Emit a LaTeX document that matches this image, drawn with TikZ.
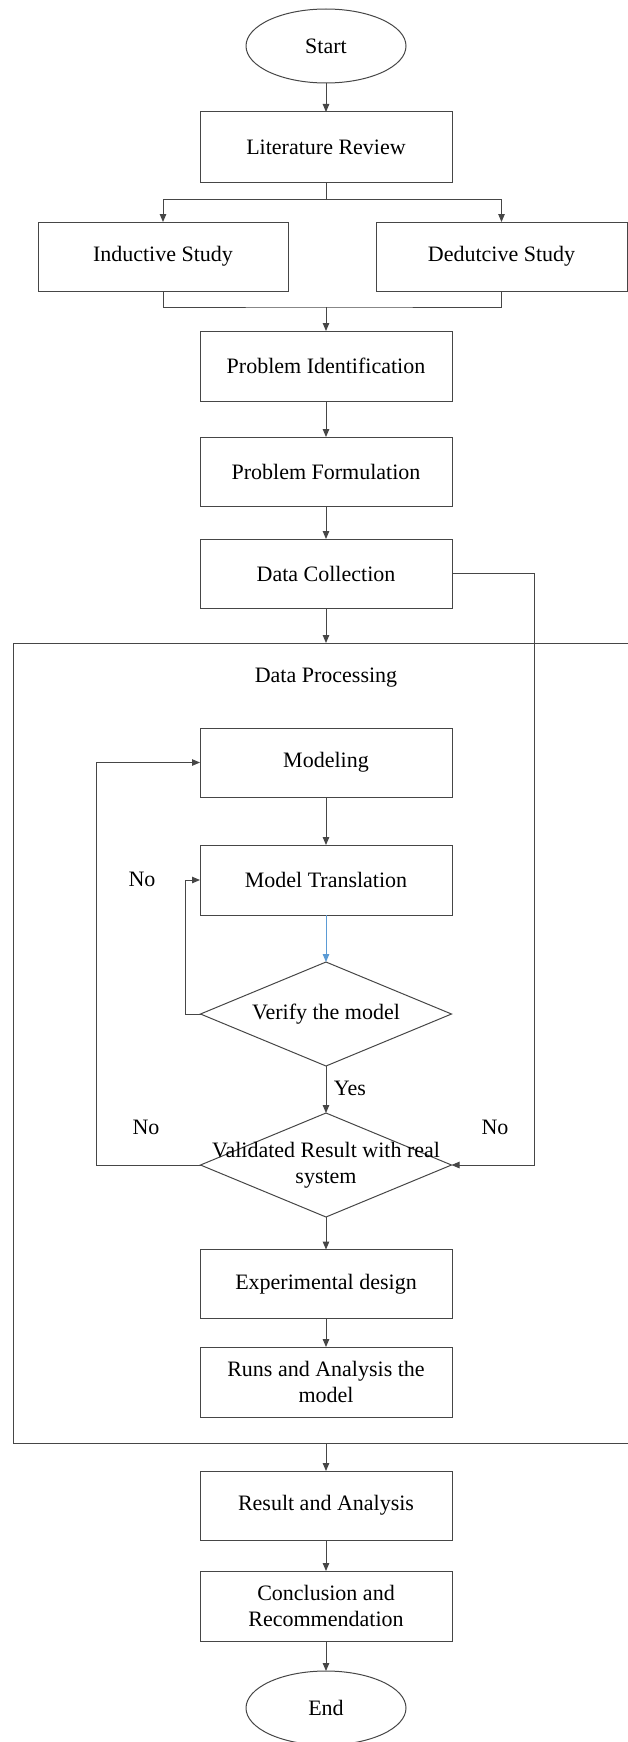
\documentclass[tikz,border=0pt]{standalone}
\usepackage{fontspec}
\setmainfont{Liberation Serif}
\usetikzlibrary{shapes.geometric,arrows.meta,calc}
\definecolor{linecol}{RGB}{70,70,70}
\definecolor{bluearrow}{RGB}{91,155,213}
\begin{document}
\begin{tikzpicture}[x=1pt,y=-1pt,
  font=\fontsize{22}{26.5}\selectfont,
  every node/.style={inner sep=0pt, outer sep=0pt},
  box/.style={draw=linecol, line width=1pt, rectangle, minimum width=252pt, minimum height=69pt, align=center},
  term/.style={draw=linecol, line width=1pt, ellipse, minimum width=160pt, minimum height=74pt},
  decision/.style={draw=linecol, line width=1pt, diamond, minimum width=251pt, minimum height=104pt},
  conn/.style={draw=linecol, line width=1pt},
  arr/.style={conn, -{Triangle[length=8pt,width=6.5pt]}},
  lbl/.style={align=center}]
\useasboundingbox (0,0) rectangle (628,1742);

% nodes
\node[term] (start) at (326,46) {Start};
\node[box, minimum height=70pt] (lit) at (326,147) {Literature Review};
\node[box, minimum width=250pt] (ind) at (163,256.5) {Inductive Study};
\node[box, minimum width=251pt] (ded) at (501.5,256.5) {Dedutcive Study};
\node[box, minimum height=70pt] (pid) at (326,366) {Problem Identification};
\node[box] (pform) at (326,471.5) {Problem Formulation};
\node[box] (dcol) at (326,573.5) {Data Collection};
\node[lbl] (dplabel) at (326,678) {Data Processing};
\node[box] (model) at (326,762.5) {Modeling};
\node[box, minimum height=70pt] (mtrans) at (326,880) {Model Translation};
\node[decision] (verify) at (326,1014) {};
\node[lbl] (verifytxt) at (verify) {Verify the model};
\node[decision] (valid) at (326,1165) {};
\node[lbl] (validtxt) at (326,1165) {Validated Result with real\\system};
\node[box] (exp) at (326,1284) {Experimental design};
\node[box, minimum height=70pt] (runs) at (326,1382) {Runs and Analysis the\\model};
\node[box] (res) at (326,1505.5) {Result and Analysis};
\node[box, minimum height=70pt] (conc) at (326,1606) {Conclusion and\\Recommendation};
\node[term] (end) at (326,1708) {End};

% labels
\node[lbl] (no1) at (142,879) {No};
\node[lbl] (yes) at (350,1088) {Yes};
\node[lbl] (no2) at (146,1127) {No};
\node[lbl] (no3) at (495,1127) {No};

% data processing frame
\coordinate (dptop) at (326,643);
\coordinate (dpbot) at (326,1443);
\draw[conn] (629,643) -- (13,643) -- (13,1443) -- (629,1443);

% connectors
\draw[arr] (start) -- (lit);
\coordinate (split) at (326,199);
\draw[conn] (lit.south) -- (split);
\draw[arr] (split) -| (ind.north);
\draw[arr] (split) -| (ded.north);
\coordinate (merge) at (326,307);
\draw[conn] (ind.south) |- (merge) -| (ded.south);
\draw[arr] (merge) -- (pid.north);
\draw[arr] (pid) -- (pform);
\draw[arr] (pform) -- (dcol);
\draw[arr] (dcol.south) -- (dptop);
\coordinate (rightrun) at (534,1165);
\draw[arr] (dcol.east) -| (rightrun) -- (valid.east);
\draw[arr] (model) -- (mtrans);
\draw[draw=bluearrow, line width=1pt, -{Triangle[length=8pt,width=6.5pt]}] (mtrans.south) -- (verify.north);
\coordinate (vloop) at (185,1014);
\draw[arr] (verify.west) -- (vloop) |- (mtrans.west);
\draw[arr] (verify.south) -- (valid.north);
\coordinate (lloop) at (96,1165);
\draw[arr] (valid.west) -- (lloop) |- (model.west);
\draw[arr] (valid.south) -- (exp.north);
\draw[arr] (exp) -- (runs);
\draw[arr] (dpbot) -- (res.north);
\draw[arr] (res) -- (conc);
\draw[arr] (conc) -- (end);
\end{tikzpicture}
\end{document}
